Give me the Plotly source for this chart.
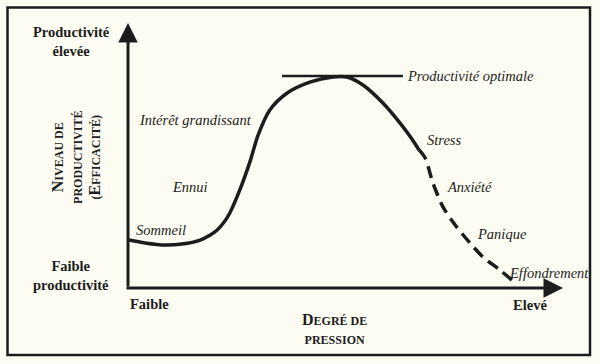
import plotly.graph_objects as go

# Conceptual curve: productivity (0-100) vs pressure (0-100)
solid_pressure = [0.2, 3.9, 8.5, 12.4, 16.6, 18.9, 20.5, 22.1, 23.4, 25.7, 28.0, 29.9,
                  32.6, 36.6, 41.8, 47.1, 50.3, 54.0, 58.6, 62.5, 65.1, 66.9]
solid_productivity = [18.1, 17.0, 16.2, 16.6, 18.1, 20.0, 21.9, 24.9, 28.3, 37.0, 47.5, 57.7,
                      67.2, 73.6, 77.7, 79.6, 79.6, 76.6, 69.8, 62.3, 56.6, 52.1]

dashed_pressure = [66.9, 68.3, 70.1, 72.4, 75.2, 78.6, 81.6, 85.5, 89.0]
dashed_productivity = [52.1, 49.1, 39.6, 30.6, 23.8, 17.0, 11.7, 6.8, 1.9]

optimal_pressure = [35.4, 63.2]
optimal_productivity = [80.0, 80.0]

stage_labels = ["Intérêt grandissant", "Ennui", "Sommeil", "Productivité optimale",
                "Stress", "Anxiété", "Panique", "Effondrement"]
stage_x = [2.1, 9.7, 1.4, 63.7, 68.3, 72.9, 79.8, 87.1]
stage_y = [63.4, 38.1, 21.9, 80.0, 55.8, 38.1, 20.4, 5.7]

INK = "#1c1c1c"
BG = "#fcfcf2"
SERIF = "Liberation Serif, Times New Roman, serif"


def cap(s):
    return "<span style='font-size:16px'>%s</span>" % s


def small(s):
    return "<span style='font-size:12px'>%s</span>" % s


fig = go.Figure()
fig.add_trace(go.Scatter(x=solid_pressure, y=solid_productivity, mode="lines",
                         line=dict(color=INK, width=3.5, shape="spline", smoothing=0.8),
                         hoverinfo="skip"))
fig.add_trace(go.Scatter(x=dashed_pressure, y=dashed_productivity, mode="lines",
                         line=dict(color=INK, width=3.5, shape="spline", smoothing=0.8,
                                   dash="12px,7px"),
                         hoverinfo="skip"))
fig.add_trace(go.Scatter(x=optimal_pressure, y=optimal_productivity, mode="lines",
                         line=dict(color=INK, width=2.5), hoverinfo="skip"))

ann = []
# axes with arrows
ann.append(dict(x=0, y=100, ax=0, ay=0, xref="x", yref="y", axref="x", ayref="y",
                text="", showarrow=True, arrowhead=2, arrowsize=1.3, arrowwidth=3,
                arrowcolor=INK))
ann.append(dict(x=100, y=0, ax=-0.7, ay=0, xref="x", yref="y", axref="x", ayref="y",
                text="", showarrow=True, arrowhead=2, arrowsize=1.3, arrowwidth=3,
                arrowcolor=INK))

for t, x, y in zip(stage_labels, stage_x, stage_y):
    ann.append(dict(x=x, y=y, text=t, showarrow=False, xanchor="left", yanchor="middle",
                    font=dict(family=SERIF, size=14.5, color=INK, style="italic")))

bold = dict(family=SERIF, size=14.5, color=INK, weight="bold")
ann.append(dict(x=-13.1, y=93.2, text="Productivité<br>élevée", showarrow=False,
                font=bold, align="center"))
ann.append(dict(x=-13.1, y=4.7, text="Faible<br>productivité", showarrow=False,
                font=bold, align="center"))
ann.append(dict(x=0, y=-6.0, text="Faible", showarrow=False, xanchor="left", font=bold))
ann.append(dict(x=92.4, y=-6.4, text="Elevé", showarrow=False, font=bold))
ann.append(dict(x=47.4, y=-15.3,
                text=cap("D") + small("EGRÉ DE") + "<br>" + small("PRESSION"),
                showarrow=False, font=bold, align="center"))
ann.append(dict(x=-12.0, y=49.4,
                text=cap("N") + small("IVEAU DE") + "<br>" + small("PRODUCTIVITÉ") + "<br>"
                + small("(") + cap("E") + small("FFICACITÉ)"),
                showarrow=False, textangle=-90, font=bold, align="center"))

fig.update_layout(
    width=600, height=364, autosize=False,
    margin=dict(l=0, r=0, t=0, b=0),
    paper_bgcolor=BG, plot_bgcolor=BG,
    showlegend=False,
    xaxis=dict(visible=False, range=[-29.43, 108.5], fixedrange=True),
    yaxis=dict(visible=False, range=[-28.68, 108.68], fixedrange=True),
    annotations=ann,
    shapes=[dict(type="rect", xref="paper", yref="paper",
                 x0=7.5 / 600, x1=590 / 600, y0=1 - 355 / 364, y1=1 - 7.5 / 364,
                 line=dict(color=INK, width=2.5))],
)

fig.write_html("out.html", config={"displayModeBar": False},
               post_script="document.body.style.margin='0';")
